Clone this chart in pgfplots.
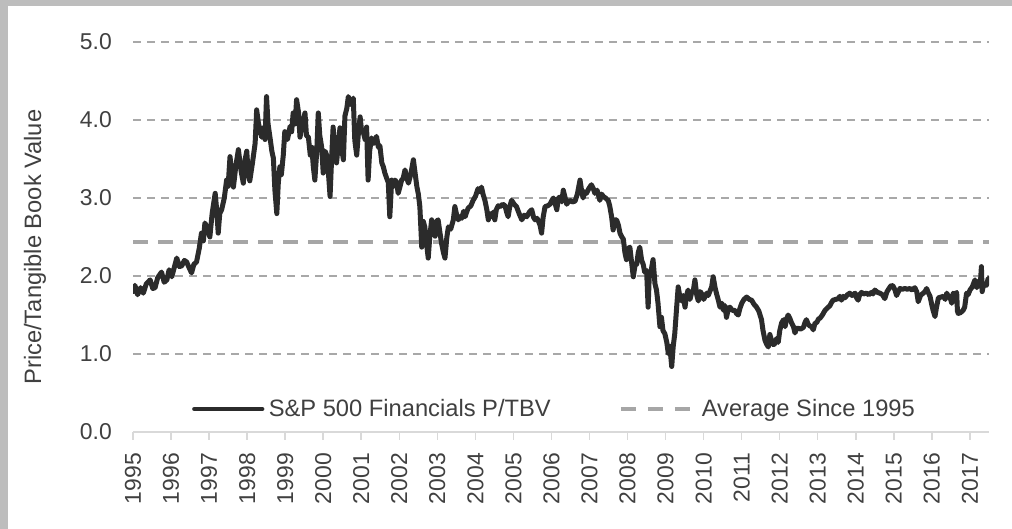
\documentclass[border=0pt]{standalone}
\usepackage{pgfplots}
\pgfplotsset{compat=1.18}
\usepackage{fontspec}
\setmainfont{Liberation Sans}
\definecolor{serie}{HTML}{2B2B2B}
\definecolor{gridc}{HTML}{A8A8A8}
\definecolor{avgc}{HTML}{A6A6A6}
\definecolor{axc}{HTML}{D9D9D9}
\definecolor{txt}{HTML}{404040}
\definecolor{framec}{HTML}{BDBDBD}

\pgfplotstableread{
x y
1995.00 1.80
1995.05 1.88
1995.12 1.76
1995.20 1.85
1995.27 1.78
1995.35 1.90
1995.45 1.95
1995.52 1.84
1995.58 1.85
1995.65 1.98
1995.75 2.05
1995.82 1.92
1995.89 1.95
1995.95 2.08
1996.02 1.99
1996.08 2.10
1996.15 2.23
1996.22 2.12
1996.28 2.13
1996.35 2.20
1996.41 2.18
1996.48 2.10
1996.54 2.04
1996.60 2.15
1996.67 2.18
1996.74 2.35
1996.80 2.55
1996.85 2.45
1996.89 2.68
1996.95 2.62
1997.02 2.50
1997.08 2.80
1997.16 3.06
1997.20 2.85
1997.24 2.55
1997.28 2.80
1997.33 2.85
1997.40 3.00
1997.46 3.23
1997.50 3.15
1997.55 3.53
1997.60 3.30
1997.64 3.14
1997.70 3.40
1997.77 3.62
1997.84 3.35
1997.90 3.19
1997.95 3.50
1997.99 3.60
1998.03 3.30
1998.07 3.22
1998.14 3.45
1998.21 3.70
1998.25 4.13
1998.30 3.95
1998.38 3.78
1998.43 3.90
1998.47 3.75
1998.51 4.30
1998.55 3.95
1998.60 3.78
1998.65 3.60
1998.69 3.51
1998.73 3.10
1998.78 2.80
1998.82 3.20
1998.86 3.40
1998.90 3.30
1998.95 3.55
1998.99 3.85
1999.06 3.75
1999.13 3.92
1999.17 3.85
1999.21 4.09
1999.26 3.95
1999.30 4.26
1999.35 4.10
1999.39 3.78
1999.45 3.95
1999.52 4.09
1999.56 3.80
1999.61 3.78
1999.66 3.55
1999.70 3.65
1999.74 3.40
1999.78 3.23
1999.83 3.60
1999.87 4.09
1999.91 3.80
1999.96 3.65
2000.00 3.32
2000.05 3.60
2000.09 3.55
2000.14 3.30
2000.18 3.02
2000.22 3.50
2000.26 3.91
2000.31 3.60
2000.35 3.45
2000.40 3.70
2000.44 3.90
2000.48 3.65
2000.53 3.49
2000.57 4.05
2000.62 4.15
2000.66 4.30
2000.72 4.20
2000.79 4.28
2000.83 3.74
2000.88 3.55
2000.92 3.80
2000.97 4.04
2001.01 3.85
2001.05 3.85
2001.10 3.75
2001.14 3.91
2001.18 3.23
2001.22 3.60
2001.27 3.77
2001.33 3.70
2001.40 3.79
2001.45 3.65
2001.49 3.67
2001.54 3.45
2001.58 3.40
2001.62 3.32
2001.67 3.25
2001.71 3.20
2001.75 2.76
2001.80 3.23
2001.85 3.15
2001.89 3.23
2001.93 3.20
2001.97 3.06
2002.02 3.15
2002.06 3.23
2002.10 3.25
2002.15 3.36
2002.20 3.25
2002.24 3.19
2002.30 3.30
2002.37 3.49
2002.42 3.30
2002.46 3.15
2002.50 3.05
2002.54 2.89
2002.59 2.37
2002.63 2.70
2002.67 2.63
2002.72 2.40
2002.76 2.23
2002.80 2.50
2002.85 2.72
2002.90 2.60
2002.94 2.51
2002.98 2.70
2003.02 2.72
2003.07 2.55
2003.11 2.42
2003.16 2.30
2003.20 2.23
2003.25 2.50
2003.29 2.63
2003.35 2.60
2003.42 2.72
2003.46 2.89
2003.50 2.80
2003.55 2.72
2003.60 2.76
2003.64 2.74
2003.69 2.83
2003.73 2.76
2003.77 2.82
2003.81 2.87
2003.88 2.90
2003.94 2.97
2004.00 3.02
2004.07 3.12
2004.12 3.08
2004.16 3.14
2004.20 3.05
2004.25 2.97
2004.30 2.85
2004.34 2.72
2004.38 2.80
2004.43 2.76
2004.47 2.82
2004.51 2.72
2004.55 2.85
2004.60 2.90
2004.65 2.89
2004.72 2.92
2004.78 2.90
2004.82 2.82
2004.86 2.76
2004.90 2.88
2004.95 2.97
2005.02 2.92
2005.08 2.89
2005.15 2.80
2005.22 2.72
2005.28 2.78
2005.35 2.76
2005.42 2.82
2005.48 2.85
2005.53 2.75
2005.57 2.72
2005.62 2.74
2005.66 2.70
2005.70 2.65
2005.74 2.55
2005.78 2.75
2005.83 2.89
2005.90 2.90
2005.96 2.92
2006.01 2.97
2006.05 3.00
2006.10 2.92
2006.14 2.85
2006.18 3.00
2006.22 3.01
2006.27 2.95
2006.31 3.10
2006.36 3.00
2006.40 2.92
2006.44 2.95
2006.48 2.97
2006.55 2.95
2006.62 2.96
2006.68 3.05
2006.75 3.23
2006.79 3.10
2006.83 3.00
2006.88 3.08
2006.92 3.06
2006.98 3.12
2007.05 3.17
2007.10 3.12
2007.14 3.06
2007.20 3.10
2007.27 2.97
2007.32 3.05
2007.36 3.02
2007.42 3.00
2007.49 2.97
2007.53 2.90
2007.58 2.76
2007.62 2.59
2007.67 2.72
2007.71 2.72
2007.76 2.65
2007.80 2.55
2007.85 2.50
2007.89 2.47
2007.93 2.30
2007.97 2.21
2008.02 2.35
2008.06 2.37
2008.10 2.20
2008.15 1.99
2008.20 2.15
2008.24 2.15
2008.28 2.30
2008.32 2.37
2008.37 2.20
2008.41 2.15
2008.45 2.05
2008.50 2.07
2008.54 1.60
2008.57 2.00
2008.59 1.99
2008.63 2.10
2008.67 2.21
2008.72 1.90
2008.76 1.82
2008.80 1.65
2008.85 1.35
2008.89 1.47
2008.93 1.30
2008.98 1.26
2009.03 1.15
2009.07 1.01
2009.11 1.10
2009.16 0.84
2009.20 1.10
2009.24 1.26
2009.29 1.60
2009.33 1.86
2009.38 1.72
2009.42 1.68
2009.46 1.75
2009.51 1.60
2009.55 1.75
2009.59 1.82
2009.64 1.70
2009.68 1.78
2009.73 1.82
2009.77 1.95
2009.82 1.75
2009.86 1.68
2009.91 1.80
2009.95 1.77
2010.00 1.70
2010.03 1.73
2010.08 1.78
2010.12 1.75
2010.16 1.80
2010.21 1.86
2010.25 1.99
2010.30 1.85
2010.34 1.77
2010.38 1.70
2010.43 1.60
2010.48 1.65
2010.52 1.56
2010.56 1.62
2010.60 1.47
2010.65 1.58
2010.69 1.60
2010.75 1.56
2010.82 1.56
2010.86 1.52
2010.91 1.50
2010.95 1.58
2011.00 1.65
2011.06 1.70
2011.13 1.73
2011.20 1.70
2011.26 1.69
2011.32 1.64
2011.39 1.60
2011.45 1.55
2011.52 1.44
2011.56 1.30
2011.61 1.18
2011.65 1.13
2011.70 1.09
2011.74 1.25
2011.78 1.18
2011.83 1.12
2011.87 1.13
2011.92 1.20
2011.96 1.15
2012.00 1.30
2012.05 1.40
2012.10 1.44
2012.14 1.35
2012.18 1.45
2012.22 1.50
2012.27 1.45
2012.31 1.40
2012.36 1.35
2012.40 1.27
2012.44 1.33
2012.48 1.33
2012.55 1.32
2012.62 1.34
2012.66 1.40
2012.70 1.44
2012.75 1.38
2012.79 1.36
2012.84 1.35
2012.88 1.31
2012.93 1.40
2012.97 1.40
2013.02 1.45
2013.06 1.46
2013.12 1.50
2013.19 1.56
2013.25 1.59
2013.32 1.62
2013.36 1.66
2013.40 1.69
2013.47 1.70
2013.54 1.71
2013.58 1.74
2013.62 1.69
2013.67 1.74
2013.71 1.72
2013.78 1.76
2013.84 1.78
2013.90 1.75
2013.98 1.78
2014.02 1.72
2014.06 1.69
2014.10 1.76
2014.15 1.79
2014.20 1.77
2014.28 1.78
2014.34 1.76
2014.41 1.79
2014.45 1.77
2014.50 1.82
2014.57 1.79
2014.63 1.78
2014.70 1.76
2014.76 1.71
2014.82 1.80
2014.90 1.86
2014.94 1.88
2014.98 1.87
2015.03 1.82
2015.07 1.75
2015.12 1.80
2015.16 1.84
2015.22 1.83
2015.29 1.84
2015.35 1.83
2015.42 1.84
2015.48 1.82
2015.55 1.85
2015.60 1.80
2015.64 1.67
2015.70 1.75
2015.77 1.78
2015.82 1.80
2015.86 1.84
2015.90 1.79
2015.95 1.74
2016.00 1.62
2016.03 1.56
2016.08 1.48
2016.12 1.60
2016.17 1.72
2016.24 1.73
2016.30 1.74
2016.35 1.70
2016.39 1.78
2016.43 1.74
2016.47 1.74
2016.52 1.65
2016.56 1.78
2016.60 1.76
2016.65 1.79
2016.67 1.55
2016.69 1.52
2016.75 1.53
2016.82 1.56
2016.86 1.60
2016.91 1.78
2016.95 1.76
2017.00 1.82
2017.06 1.86
2017.13 1.95
2017.18 1.85
2017.22 1.93
2017.27 1.88
2017.30 2.12
2017.32 1.80
2017.34 1.85
2017.38 1.90
2017.43 1.88
2017.48 1.97
2017.50 1.92
}\pbtable

\begin{document}
\begin{tikzpicture}
\useasboundingbox (0,0) rectangle (1012bp,529bp);
\fill[white] (0,0) rectangle (1012bp,529bp);
\fill[framec] (0,0) rectangle (8bp,529bp);
\fill[framec] (0,523bp) rectangle (1012bp,529bp);
\begin{axis}[
  at={(133bp,97bp)}, anchor=south west,
  scale only axis, width=856bp, height=390bp,
  xmin=1995, xmax=2017.5, ymin=0, ymax=5,
  axis x line*=bottom, axis y line*=left,
  x axis line style={draw=axc, line width=1.5bp, -},
  y axis line style={draw=none, -},
  xtick={1995,...,2017},
  ytick={1,2,3,4,5},
  extra y ticks={0},
  extra y tick style={grid=none},
  ymajorgrids,
  grid style={draw=gridc, line width=1.3bp, dash pattern=on 8bp off 6bp},
  tick align=outside,
  major tick length=8bp,
  x tick style={draw=axc, line width=1.5bp},
  y tick style={draw=none},
  /pgf/number format/assume math mode=true,
  tick label style={font=\fontsize{23}{27}\selectfont, text=txt},
  yticklabel style={/pgf/number format/.cd, fixed, fixed zerofill, precision=1, /tikz/.cd, inner sep=0pt, xshift=-13bp},
  xticklabel style={/pgf/number format/.cd, 1000 sep={}, /tikz/.cd, yshift=-13bp, rotate=90, anchor=east, inner sep=0pt},
  ylabel={Price/Tangible Book Value},
  ylabel style={at={(axis description cs:-0.1145,0.474)}, anchor=center, font=\fontsize{23.8}{28}\selectfont, text=txt},
  legend style={draw=none, fill=none, at={(axis description cs:0.0689,0.059)}, anchor=west,
    font=\fontsize{23.8}{28}\selectfont, text=txt, inner sep=0pt,
    /tikz/every even column/.append style={column sep=66bp}},
  legend columns=2,
  legend cell align=left,
]
\addplot[avgc, line width=4bp, dash pattern=on 15bp off 10bp, forget plot] coordinates {(1995,2.44) (2017.5,2.44)};
\addplot[serie, line width=5bp, line join=round, line cap=round,
  legend image code/.code={\draw[serie, line width=4.2bp] (0bp,0bp) -- (68bp,0bp); \path (70bp,0bp);}] table[x=x,y=y] {\pbtable};
\addlegendentry{S\&P 500 Financials P/TBV}
\addlegendimage{avgc, line width=4bp, legend image code/.code={\draw[avgc, line width=4bp, dash pattern=on 15bp off 12bp] (0bp,0bp) -- (70bp,0bp); \path (77bp,0bp);}}
\addlegendentry{Average Since 1995}
\end{axis}
\end{tikzpicture}
\end{document}
